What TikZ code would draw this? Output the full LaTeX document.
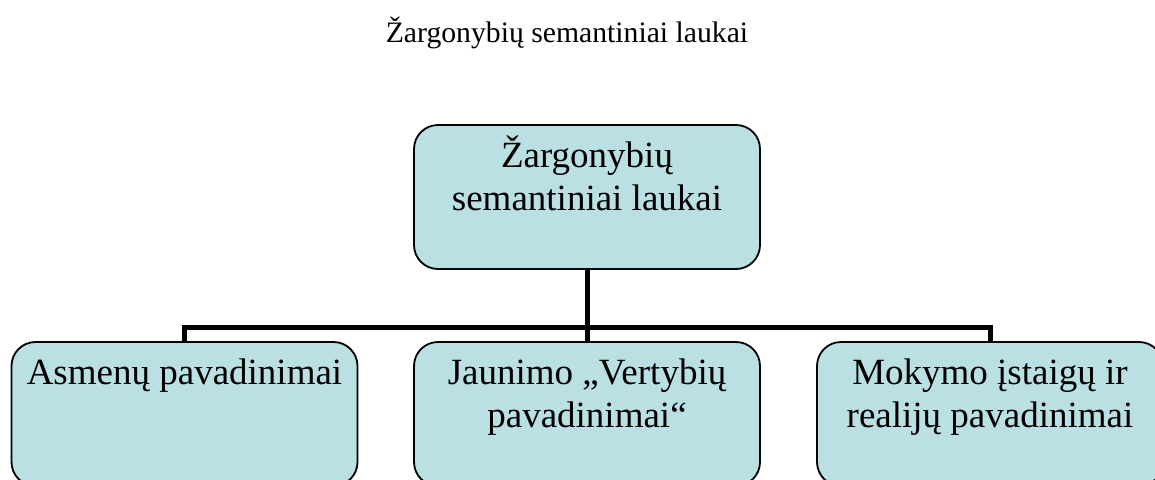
\documentclass[tikz,border=0pt]{standalone}
\usepackage{fontspec}
\setmainfont{Liberation Serif}
\definecolor{boxfill}{RGB}{186,224,228}
\newcommand{\boxtext}[1]{\parbox[t][144pt][t]{346pt}{\centering\fontsize{37}{43.5}\selectfont\rule{0pt}{42pt}#1\par}}
\tikzset{
  box/.style={draw=black, line width=1.8pt, fill=boxfill, rounded corners=24pt, inner sep=0pt, outer sep=0pt, anchor=north},
  conn/.style={draw=black, line width=5pt, line join=miter},
  title/.style={inner sep=0pt, anchor=base, font=\fontsize{29.7}{34}\selectfont}
}
\begin{document}
\begin{tikzpicture}[x=1pt,y=-1pt]
\useasboundingbox (0,0) rectangle (1155,479);
\node[title] (ttl) at (567,42) {Žargonybių semantiniai laukai};
\node[box] (top) at (587,125) {\boxtext{Žargonybių\\semantiniai laukai}};
\node[box] (a) at (184.5,342) {\boxtext{Asmenų pavadinimai}};
\node[box] (b) at (587,342) {\boxtext{Jaunimo „Vertybių\\pavadinimai“}};
\node[box] (c) at (990,342) {\boxtext{Mokymo įstaigų ir\\realijų pavadinimai}};
\coordinate (bus) at (587,327.5);
\draw[conn] (top.south) -- (bus);
\draw[conn] (a.north) |- (bus) -| (c.north);
\draw[conn] (b.north) -- (bus);
\end{tikzpicture}
\end{document}
